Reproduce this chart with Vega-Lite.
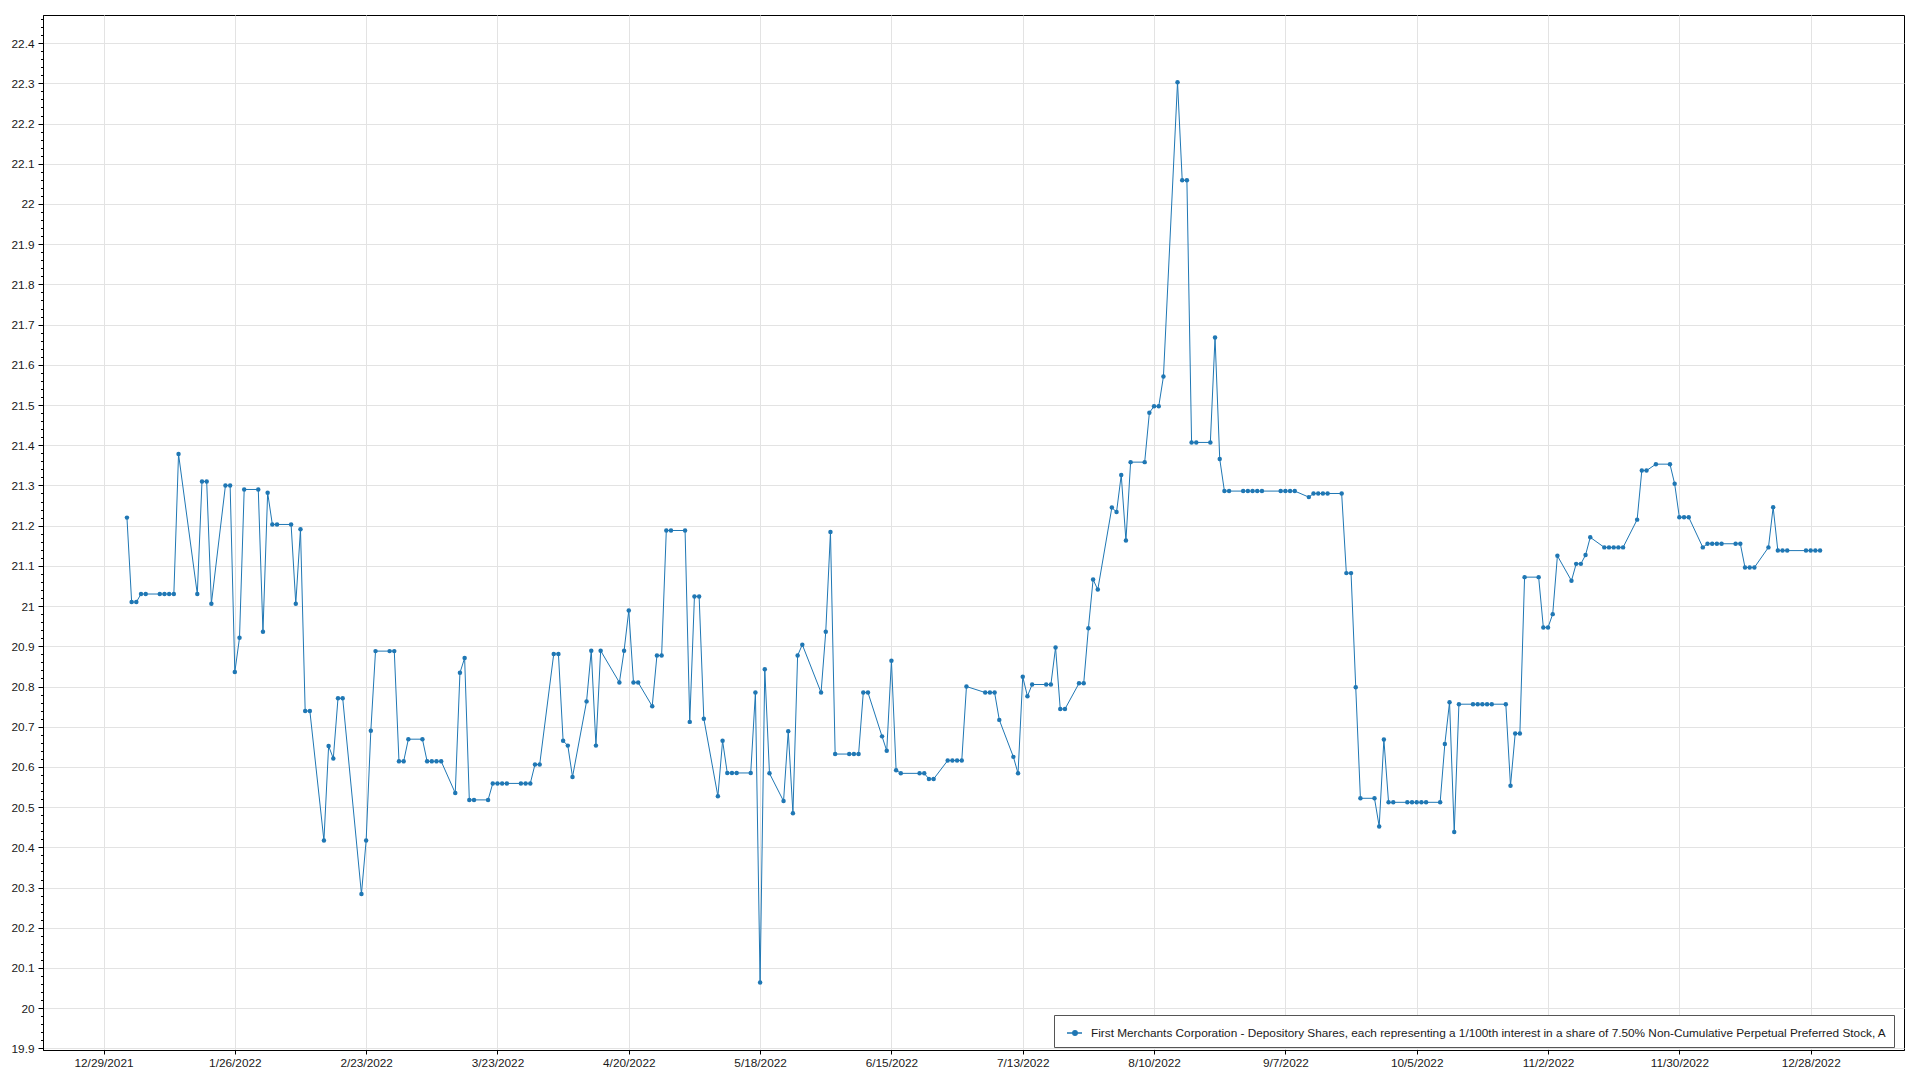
{
  "$schema": "https://vega.github.io/schema/vega-lite/v6.json",
  "width": 1861,
  "height": 1035,
  "autosize": {"type": "none"},
  "padding": {"left": 43, "top": 15, "right": 16, "bottom": 30},
  "background": "white",
  "config": {
    "view": {"stroke": "#000", "strokeWidth": 1},
    "font": "Liberation Sans",
    "axis": {"labelFont": "Liberation Sans", "labelColor": "#1a1a1a", "domainColor": "#000", "tickColor": "#000", "gridColor": "#e3e3e3", "gridWidth": 1},
    "legend": {"labelFont": "Liberation Sans"}
  },
  "data": {"values": [
    {"d":"2022-01-03","v":21.22},{"d":"2022-01-04","v":21.01},{"d":"2022-01-05","v":21.01},{"d":"2022-01-06","v":21.03},{"d":"2022-01-07","v":21.03},
    {"d":"2022-01-10","v":21.03},{"d":"2022-01-11","v":21.03},{"d":"2022-01-12","v":21.03},{"d":"2022-01-13","v":21.03},{"d":"2022-01-14","v":21.378},
    {"d":"2022-01-18","v":21.03},{"d":"2022-01-19","v":21.31},{"d":"2022-01-20","v":21.31},{"d":"2022-01-21","v":21.006},
    {"d":"2022-01-24","v":21.30},{"d":"2022-01-25","v":21.30},{"d":"2022-01-26","v":20.836},{"d":"2022-01-27","v":20.921},{"d":"2022-01-28","v":21.29},
    {"d":"2022-01-31","v":21.29},{"d":"2022-02-01","v":20.936},{"d":"2022-02-02","v":21.282},{"d":"2022-02-03","v":21.203},{"d":"2022-02-04","v":21.203},
    {"d":"2022-02-07","v":21.203},{"d":"2022-02-08","v":21.006},{"d":"2022-02-09","v":21.191},{"d":"2022-02-10","v":20.739},{"d":"2022-02-11","v":20.739},
    {"d":"2022-02-14","v":20.417},{"d":"2022-02-15","v":20.652},{"d":"2022-02-16","v":20.621},{"d":"2022-02-17","v":20.771},{"d":"2022-02-18","v":20.771},
    {"d":"2022-02-22","v":20.284},{"d":"2022-02-23","v":20.417},{"d":"2022-02-24","v":20.69},{"d":"2022-02-25","v":20.888},
    {"d":"2022-02-28","v":20.888},{"d":"2022-03-01","v":20.888},{"d":"2022-03-02","v":20.614},{"d":"2022-03-03","v":20.614},{"d":"2022-03-04","v":20.669},
    {"d":"2022-03-07","v":20.669},{"d":"2022-03-08","v":20.614},{"d":"2022-03-09","v":20.614},{"d":"2022-03-10","v":20.614},{"d":"2022-03-11","v":20.614},
    {"d":"2022-03-14","v":20.535},{"d":"2022-03-15","v":20.834},{"d":"2022-03-16","v":20.871},{"d":"2022-03-17","v":20.518},{"d":"2022-03-18","v":20.518},
    {"d":"2022-03-21","v":20.518},{"d":"2022-03-22","v":20.559},{"d":"2022-03-23","v":20.559},{"d":"2022-03-24","v":20.559},{"d":"2022-03-25","v":20.559},
    {"d":"2022-03-28","v":20.559},{"d":"2022-03-29","v":20.559},{"d":"2022-03-30","v":20.559},{"d":"2022-03-31","v":20.606},{"d":"2022-04-01","v":20.606},
    {"d":"2022-04-04","v":20.881},{"d":"2022-04-05","v":20.881},{"d":"2022-04-06","v":20.665},{"d":"2022-04-07","v":20.653},{"d":"2022-04-08","v":20.575},
    {"d":"2022-04-11","v":20.763},{"d":"2022-04-12","v":20.889},{"d":"2022-04-13","v":20.653},{"d":"2022-04-14","v":20.889},
    {"d":"2022-04-18","v":20.81},{"d":"2022-04-19","v":20.889},{"d":"2022-04-20","v":20.989},{"d":"2022-04-21","v":20.81},{"d":"2022-04-22","v":20.81},
    {"d":"2022-04-25","v":20.751},{"d":"2022-04-26","v":20.877},{"d":"2022-04-27","v":20.877},{"d":"2022-04-28","v":21.188},{"d":"2022-04-29","v":21.188},
    {"d":"2022-05-02","v":21.188},{"d":"2022-05-03","v":20.712},{"d":"2022-05-04","v":21.024},{"d":"2022-05-05","v":21.024},{"d":"2022-05-06","v":20.72},
    {"d":"2022-05-09","v":20.527},{"d":"2022-05-10","v":20.665},{"d":"2022-05-11","v":20.585},{"d":"2022-05-12","v":20.585},{"d":"2022-05-13","v":20.585},
    {"d":"2022-05-16","v":20.585},{"d":"2022-05-17","v":20.785},{"d":"2022-05-18","v":20.064},{"d":"2022-05-19","v":20.843},{"d":"2022-05-20","v":20.584},
    {"d":"2022-05-23","v":20.515},{"d":"2022-05-24","v":20.689},{"d":"2022-05-25","v":20.485},{"d":"2022-05-26","v":20.877},{"d":"2022-05-27","v":20.904},
    {"d":"2022-05-31","v":20.785},{"d":"2022-06-01","v":20.936},{"d":"2022-06-02","v":21.184},{"d":"2022-06-03","v":20.632},
    {"d":"2022-06-06","v":20.632},{"d":"2022-06-07","v":20.632},{"d":"2022-06-08","v":20.632},{"d":"2022-06-09","v":20.785},{"d":"2022-06-10","v":20.785},
    {"d":"2022-06-13","v":20.676},{"d":"2022-06-14","v":20.64},{"d":"2022-06-15","v":20.864},{"d":"2022-06-16","v":20.592},{"d":"2022-06-17","v":20.584},
    {"d":"2022-06-21","v":20.584},{"d":"2022-06-22","v":20.584},{"d":"2022-06-23","v":20.57},{"d":"2022-06-24","v":20.57},
    {"d":"2022-06-27","v":20.616},{"d":"2022-06-28","v":20.616},{"d":"2022-06-29","v":20.616},{"d":"2022-06-30","v":20.616},{"d":"2022-07-01","v":20.80},
    {"d":"2022-07-05","v":20.785},{"d":"2022-07-06","v":20.785},{"d":"2022-07-07","v":20.785},{"d":"2022-07-08","v":20.717},
    {"d":"2022-07-11","v":20.625},{"d":"2022-07-12","v":20.584},{"d":"2022-07-13","v":20.824},{"d":"2022-07-14","v":20.776},{"d":"2022-07-15","v":20.805},
    {"d":"2022-07-18","v":20.805},{"d":"2022-07-19","v":20.805},{"d":"2022-07-20","v":20.897},{"d":"2022-07-21","v":20.744},{"d":"2022-07-22","v":20.744},
    {"d":"2022-07-25","v":20.808},{"d":"2022-07-26","v":20.808},{"d":"2022-07-27","v":20.945},{"d":"2022-07-28","v":21.066},{"d":"2022-07-29","v":21.041},
    {"d":"2022-08-01","v":21.245},{"d":"2022-08-02","v":21.234},{"d":"2022-08-03","v":21.326},{"d":"2022-08-04","v":21.163},{"d":"2022-08-05","v":21.358},
    {"d":"2022-08-08","v":21.358},{"d":"2022-08-09","v":21.481},{"d":"2022-08-10","v":21.497},{"d":"2022-08-11","v":21.497},{"d":"2022-08-12","v":21.571},
    {"d":"2022-08-15","v":22.303},{"d":"2022-08-16","v":22.059},{"d":"2022-08-17","v":22.059},{"d":"2022-08-18","v":21.407},{"d":"2022-08-19","v":21.407},
    {"d":"2022-08-22","v":21.407},{"d":"2022-08-23","v":21.668},{"d":"2022-08-24","v":21.366},{"d":"2022-08-25","v":21.286},{"d":"2022-08-26","v":21.286},
    {"d":"2022-08-29","v":21.286},{"d":"2022-08-30","v":21.286},{"d":"2022-08-31","v":21.286},{"d":"2022-09-01","v":21.286},{"d":"2022-09-02","v":21.286},
    {"d":"2022-09-06","v":21.286},{"d":"2022-09-07","v":21.286},{"d":"2022-09-08","v":21.286},{"d":"2022-09-09","v":21.286},
    {"d":"2022-09-12","v":21.271},{"d":"2022-09-13","v":21.28},{"d":"2022-09-14","v":21.28},{"d":"2022-09-15","v":21.28},{"d":"2022-09-16","v":21.28},
    {"d":"2022-09-19","v":21.28},{"d":"2022-09-20","v":21.082},{"d":"2022-09-21","v":21.082},{"d":"2022-09-22","v":20.798},{"d":"2022-09-23","v":20.522},
    {"d":"2022-09-26","v":20.522},{"d":"2022-09-27","v":20.452},{"d":"2022-09-28","v":20.668},{"d":"2022-09-29","v":20.512},{"d":"2022-09-30","v":20.512},
    {"d":"2022-10-03","v":20.512},{"d":"2022-10-04","v":20.512},{"d":"2022-10-05","v":20.512},{"d":"2022-10-06","v":20.512},{"d":"2022-10-07","v":20.512},
    {"d":"2022-10-10","v":20.512},{"d":"2022-10-11","v":20.657},{"d":"2022-10-12","v":20.761},{"d":"2022-10-13","v":20.438},{"d":"2022-10-14","v":20.756},
    {"d":"2022-10-17","v":20.756},{"d":"2022-10-18","v":20.756},{"d":"2022-10-19","v":20.756},{"d":"2022-10-20","v":20.756},{"d":"2022-10-21","v":20.756},
    {"d":"2022-10-24","v":20.756},{"d":"2022-10-25","v":20.553},{"d":"2022-10-26","v":20.683},{"d":"2022-10-27","v":20.683},{"d":"2022-10-28","v":21.072},
    {"d":"2022-10-31","v":21.072},{"d":"2022-11-01","v":20.947},{"d":"2022-11-02","v":20.947},{"d":"2022-11-03","v":20.98},{"d":"2022-11-04","v":21.125},
    {"d":"2022-11-07","v":21.063},{"d":"2022-11-08","v":21.105},{"d":"2022-11-09","v":21.105},{"d":"2022-11-10","v":21.127},{"d":"2022-11-11","v":21.171},
    {"d":"2022-11-14","v":21.146},{"d":"2022-11-15","v":21.146},{"d":"2022-11-16","v":21.146},{"d":"2022-11-17","v":21.146},{"d":"2022-11-18","v":21.146},
    {"d":"2022-11-21","v":21.215},{"d":"2022-11-22","v":21.337},{"d":"2022-11-23","v":21.337},{"d":"2022-11-25","v":21.353},
    {"d":"2022-11-28","v":21.353},{"d":"2022-11-29","v":21.304},{"d":"2022-11-30","v":21.221},{"d":"2022-12-01","v":21.221},{"d":"2022-12-02","v":21.221},
    {"d":"2022-12-05","v":21.146},{"d":"2022-12-06","v":21.155},{"d":"2022-12-07","v":21.155},{"d":"2022-12-08","v":21.155},{"d":"2022-12-09","v":21.155},
    {"d":"2022-12-12","v":21.155},{"d":"2022-12-13","v":21.155},{"d":"2022-12-14","v":21.096},{"d":"2022-12-15","v":21.096},{"d":"2022-12-16","v":21.096},
    {"d":"2022-12-19","v":21.146},{"d":"2022-12-20","v":21.246},{"d":"2022-12-21","v":21.138},{"d":"2022-12-22","v":21.138},{"d":"2022-12-23","v":21.138},
    {"d":"2022-12-27","v":21.138},{"d":"2022-12-28","v":21.138},{"d":"2022-12-29","v":21.138},{"d":"2022-12-30","v":21.138}
  ]},
  "layer": [
    {
      "mark": {"type": "line", "strokeWidth": 1},
      "encoding": {
        "x": {
          "field": "d", "type": "temporal",
          "scale": {"type": "utc", "domain": [{"year": 2021, "month": 12, "date": 16, "hours": 2, "minutes": 24, "utc": true}, {"year": 2023, "month": 1, "date": 16, "hours": 21, "minutes": 36, "utc": true}]},
          "axis": {
            "title": null,
            "labelExpr": "utcFormat(datum.value, '%-m/%-d/%Y')",
            "tickCount": 100,
            "values": [
              {"year": 2021, "month": 12, "date": 29, "utc": true},
              {"year": 2022, "month": 1, "date": 26, "utc": true},
              {"year": 2022, "month": 2, "date": 23, "utc": true},
              {"year": 2022, "month": 3, "date": 23, "utc": true},
              {"year": 2022, "month": 4, "date": 20, "utc": true},
              {"year": 2022, "month": 5, "date": 18, "utc": true},
              {"year": 2022, "month": 6, "date": 15, "utc": true},
              {"year": 2022, "month": 7, "date": 13, "utc": true},
              {"year": 2022, "month": 8, "date": 10, "utc": true},
              {"year": 2022, "month": 9, "date": 7, "utc": true},
              {"year": 2022, "month": 10, "date": 5, "utc": true},
              {"year": 2022, "month": 11, "date": 2, "utc": true},
              {"year": 2022, "month": 11, "date": 30, "utc": true},
              {"year": 2022, "month": 12, "date": 28, "utc": true}
            ],
            "labelFontSize": 11.8, "tickSize": 4, "labelPadding": 3, "grid": true, "labelFlush": false, "labelOverlap": false
          }
        },
        "y": {
          "field": "v", "type": "quantitative",
          "scale": {"domain": [19.896, 22.47], "nice": false, "zero": false},
          "axis": {
            "title": null,
            "tickCount": 500,
            "values": [19.9,19.92,19.94,19.96,19.98,20,20.02,20.04,20.06,20.08,20.1,20.12,20.14,20.16,20.18,20.2,20.22,20.24,20.26,20.28,20.3,20.32,20.34,20.36,20.38,20.4,20.42,20.44,20.46,20.48,20.5,20.52,20.54,20.56,20.58,20.6,20.62,20.64,20.66,20.68,20.7,20.72,20.74,20.76,20.78,20.8,20.82,20.84,20.86,20.88,20.9,20.92,20.94,20.96,20.98,21,21.02,21.04,21.06,21.08,21.1,21.12,21.14,21.16,21.18,21.2,21.22,21.24,21.26,21.28,21.3,21.32,21.34,21.36,21.38,21.4,21.42,21.44,21.46,21.48,21.5,21.52,21.54,21.56,21.58,21.6,21.62,21.64,21.66,21.68,21.7,21.72,21.74,21.76,21.78,21.8,21.82,21.84,21.86,21.88,21.9,21.92,21.94,21.96,21.98,22,22.02,22.04,22.06,22.08,22.1,22.12,22.14,22.16,22.18,22.2,22.22,22.24,22.26,22.28,22.3,22.32,22.34,22.36,22.38,22.4,22.42,22.44,22.46],
            "labelExpr": "abs(datum.value * 10 - round(datum.value * 10)) < 0.01 ? format(datum.value, '.1~f') : ''",
            "tickSize": {"condition": {"test": "abs(datum.value * 10 - round(datum.value * 10)) < 0.01", "value": 5}, "value": 2.5},
            "gridOpacity": {"condition": {"test": "abs(datum.value * 10 - round(datum.value * 10)) < 0.01", "value": 1}, "value": 0},
            "labelFontSize": 11.8, "labelPadding": 4, "grid": true, "labelOverlap": false
          }
        },
        "color": {
          "datum": "First Merchants Corporation - Depository Shares, each representing a 1/100th interest in a share of 7.50% Non-Cumulative Perpetual Preferred Stock, A",
          "type": "nominal",
          "scale": {"range": ["#1f77b4"]},
          "legend": {
            "title": null, "orient": "none", "legendX": 1011, "legendY": 1000,
            "padding": 7, "fillColor": "white", "strokeColor": "#555",
            "symbolType": "M-0.5,0H1M0.08,0A0.22,0.22 0 1,0 0.52,0A0.22,0.22 0 1,0 0.08,0Z",
            "symbolSize": 400,
            "labelFontSize": 11.8, "labelColor": "#1a1a1a", "labelLimit": 0, "labelOffset": 8
          }
        }
      }
    },
    {
      "mark": {"type": "point", "filled": true, "size": 20, "opacity": 1},
      "encoding": {
        "x": {"field": "d", "type": "temporal"},
        "y": {"field": "v", "type": "quantitative"},
        "color": {
          "datum": "First Merchants Corporation - Depository Shares, each representing a 1/100th interest in a share of 7.50% Non-Cumulative Perpetual Preferred Stock, A",
          "type": "nominal"
        }
      }
    }
  ]
}
